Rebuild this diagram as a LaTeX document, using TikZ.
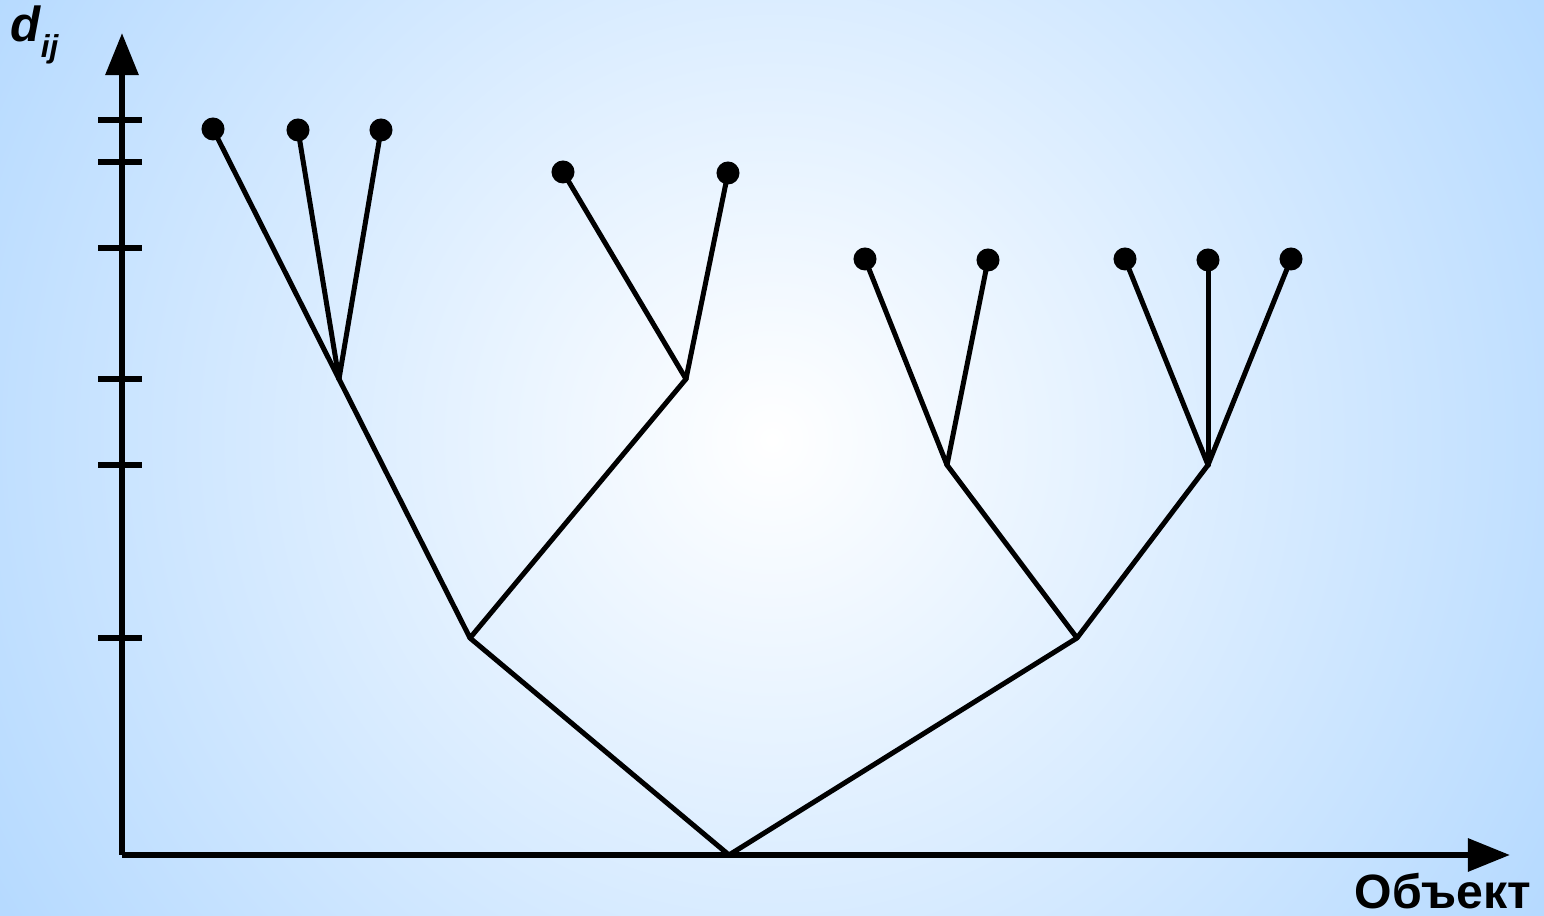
\documentclass[tikz,border=0pt]{standalone}
\usepackage{fontspec}
\setmainfont{Liberation Sans}
\usepackage{tikz}
\usetikzlibrary{
  arrows.meta,
  positioning,
  calc
}
\usepackage{xcolor}
\definecolor{skyblue}{RGB}{182,218,255}

\tikzset{
  leaf/.style={circle, fill=black, inner sep=0pt, minimum size=0.23cm},
  branch/.style={line width=0.05cm, line cap=round, line join=round},
  axis/.style={line width=0.06cm, -{Triangle[length=0.42cm, width=0.32cm]}},
  tick/.style={line width=0.06cm}
}

\begin{document}
\begin{tikzpicture}[x=0.01cm, y=-0.01cm]
  \useasboundingbox (0,0) rectangle (1544,916);
  % background with soft round glow
  \begin{scope}
    \clip (0,0) rectangle (1544,916);
    \fill[skyblue] (0,0) rectangle (1544,916);
    \shade[inner color=white, outer color=skyblue] (772,440) circle (900);
  \end{scope}

  % axes
  \coordinate (origin) at (122,855);
  \coordinate (ytop) at (122,33);
  \coordinate (xend) at (1510,855);
  \draw[axis] (origin) -- (ytop);
  \draw[axis] (origin) -- (xend);
  \foreach \ty in {120,162,248,379,465,638}{
    \draw[tick] (98,\ty) -- (142,\ty);
  }
  \node[font=\fontsize{14pt}{16pt}\selectfont\bfseries\itshape, anchor=base west, inner sep=0pt]
    (dlabel) at (10,42)
    {d\raisebox{-0.6ex}{\fontsize{9pt}{10pt}\selectfont ij}};
  \node[font=\fontsize{13.7pt}{16pt}\selectfont\bfseries] (objlabel) at (1443,891) {Объект};

  % leaves
  \node[leaf] (a1) at (213,129) {};
  \node[leaf] (a2) at (298,130) {};
  \node[leaf] (a3) at (381,130) {};
  \node[leaf] (b1) at (563,172) {};
  \node[leaf] (b2) at (728,173) {};
  \node[leaf] (c1) at (865,259) {};
  \node[leaf] (c2) at (988,260) {};
  \node[leaf] (e1) at (1125,259) {};
  \node[leaf] (e2) at (1208,260) {};
  \node[leaf] (e3) at (1291,259) {};

  % junctions
  \coordinate (ja) at (339,379);
  \coordinate (jb) at (686,379);
  \coordinate (jab) at (470,638);
  \coordinate (jc) at (947,465);
  \coordinate (je) at (1208,465);
  \coordinate (jce) at (1077,638);
  \coordinate (root) at (729,855);

  % branches
  \foreach \n in {a1,a2,a3}{ \draw[branch] (\n.center) -- (ja); }
  \foreach \n in {b1,b2}{ \draw[branch] (\n.center) -- (jb); }
  \foreach \n in {c1,c2}{ \draw[branch] (\n.center) -- (jc); }
  \foreach \n in {e1,e2,e3}{ \draw[branch] (\n.center) -- (je); }
  \draw[branch] (ja) -- (jab) -- (jb);
  \draw[branch] (jc) -- (jce) -- (je);
  \draw[branch] (jab) -- (root) -- (jce);
\end{tikzpicture}
\end{document}
